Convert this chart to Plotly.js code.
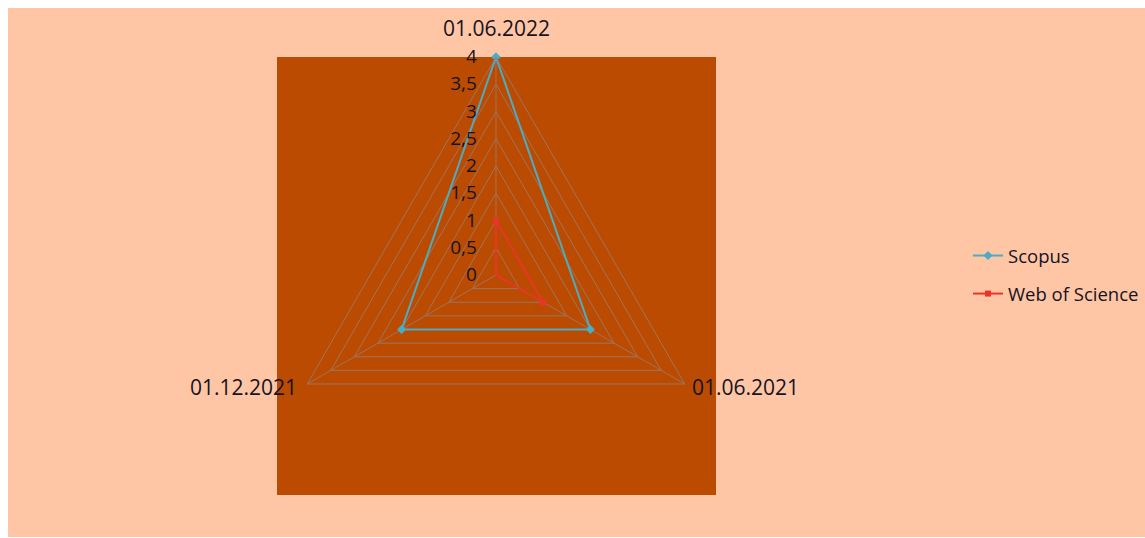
<!DOCTYPE html>
<html>
<head>
<meta charset="utf-8">
<script src="https://cdn.plot.ly/plotly-3.0.1.min.js"></script>
<style>html,body{margin:0;padding:0;background:#fff;overflow:hidden;}#chart{width:1145px;height:538px;overflow:hidden;}</style>
</head>
<body>
<div id="chart"></div>
<script>
const categories = ['01.06.2022', '01.06.2021', '01.12.2021'];
const scopus = [4, 2, 2];
const webOfScience = [1, 1, 0];
const radialTicks = [0, 0.5, 1, 1.5, 2, 2.5, 3, 3.5, 4];

const W = 1145, H = 538;
const cx = 496, cy = 275, R = 218;

function closed(a) { return a.concat([a[0]]); }

const traces = [
  {
    type: 'scatterpolar', name: 'Scopus', legendgroup: 'a',
    r: closed(scopus), theta: closed(categories),
    mode: 'lines+markers',
    line: {color: '#4BACC6', width: 2},
    marker: {symbol: 'diamond', size: 7, color: '#4BACC6'}
  },
  {
    type: 'scatterpolar', name: 'Web of Science', legendgroup: 'b',
    r: closed(webOfScience), theta: closed(categories),
    mode: 'lines+markers',
    line: {color: '#E8352A', width: 2},
    marker: {symbol: 'square', size: 6, color: '#E8352A'}
  }
];

const textColor = '#15131f';
const font = {family: 'Open Sans, sans-serif', color: textColor};

// angular category labels, placed beside each vertex of the outer polygon
const labelSpec = [
  {dx: 0, dy: -29, xanchor: 'center'},
  {dx: 5, dy: 3, xanchor: 'left'},
  {dx: -8, dy: 3, xanchor: 'right'}
];
const annotations = categories.map((c, i) => {
  const ang = Math.PI / 2 - i * 2 * Math.PI / categories.length;
  const vx = cx + R * Math.cos(ang), vy = cy - R * Math.sin(ang);
  const s = labelSpec[i];
  return {
    text: c, showarrow: false, xref: 'paper', yref: 'paper',
    x: (vx + s.dx) / W, y: 1 - (vy + s.dy) / H,
    xanchor: s.xanchor, yanchor: 'middle',
    font: {size: 21, color: textColor}
  };
});

const layout = {
  width: W, height: H,
  margin: {l: 0, r: 0, t: 0, b: 0, autoexpand: false},
  paper_bgcolor: '#ffffff',
  separators: ',.',
  showlegend: true,
  font: font,
  annotations: annotations,
  legend: {
    x: 968 / W, xanchor: 'left', y: 1 - 237 / H, yanchor: 'top',
    bgcolor: 'rgba(0,0,0,0)', font: {size: 18.5, color: textColor},
    traceorder: 'grouped', tracegroupgap: 11
  },
  shapes: [
    {type: 'rect', xref: 'paper', yref: 'paper', layer: 'below',
     x0: 8 / W, x1: 1, y0: 1 / H, y1: 1 - 8 / H,
     fillcolor: '#FFC6A6', line: {width: 0}},
    {type: 'rect', xref: 'paper', yref: 'paper', layer: 'below',
     x0: 277 / W, x1: 716 / W, y0: 1 - 495 / H, y1: 1 - 57 / H,
     fillcolor: '#BB4B00', line: {width: 0}}
  ],
  polar: {
    domain: {x: [(cx - R) / W, (cx + R) / W], y: [(H - cy - R) / H, (H - cy + R) / H]},
    bgcolor: 'rgba(0,0,0,0)',
    gridshape: 'linear',
    angularaxis: {
      type: 'category', categoryarray: categories,
      direction: 'clockwise', rotation: 90,
      showline: true, linecolor: '#9c7563', linewidth: 1,
      gridcolor: '#9c7563', gridwidth: 1,
      ticks: '', showticklabels: false
    },
    radialaxis: {
      range: [0, 4], tickvals: radialTicks, angle: 90,
      side: 'counterclockwise',
      showline: false, gridcolor: '#9c7563', gridwidth: 1,
      ticks: 'outside', ticklen: 12, tickcolor: 'rgba(0,0,0,0)',
      tickfont: {size: 19, color: textColor}, tickangle: 90
    }
  }
};

Plotly.newPlot('chart', traces, layout, {displayModeBar: false});
</script>
</body>
</html>
